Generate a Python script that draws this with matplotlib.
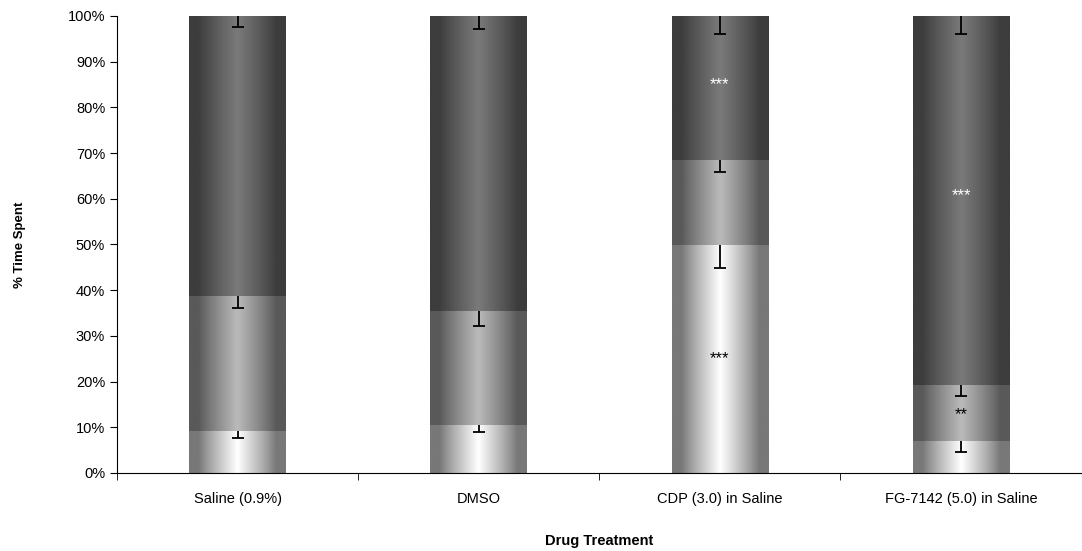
import matplotlib
matplotlib.use("Agg")
import matplotlib.pyplot as plt
import numpy as np

plt.rcParams['font.family'] = ['Liberation Sans', 'DejaVu Sans']

groups = ['Saline (0.9%)', 'DMSO', 'CDP (3.0) in Saline', 'FG-7142 (5.0) in Saline']
# % time spent in each zone (stacked, sums to 100)
zone_low = [9.2, 10.5, 49.9, 7.0]
zone_mid = [29.5, 24.9, 18.6, 12.3]
zone_top = [61.3, 64.6, 31.5, 80.7]
# downward error bars at the top of each segment
err_low = [1.5, 1.5, 5.0, 2.4]
err_mid = [2.6, 3.2, 2.6, 2.5]
err_top = [2.4, 2.8, 4.0, 4.0]
# significance marks: group index, segment, label, y position
star_group = [2, 2, 3, 3]
star_seg = ['low', 'top', 'mid', 'top']
star_text = ['***', '***', '**', '***']
star_y = [25, 85, 12.8, 60.6]

# gradient colours (edge grey, centre grey)
shades = {'low': (0.47, 1.0), 'mid': (0.35, 0.73), 'top': (0.24, 0.48)}

fig = plt.figure(figsize=(10.82, 5.51), dpi=100)
ax = fig.add_axes([0.1081, 0.1416, 0.8915, 0.8294])

ind = np.arange(len(groups))
low = np.array(zone_low)
mid = np.array(zone_mid)
top = np.array(zone_top)

bars_low = ax.bar(ind, low, width=0.4, color='none')
bars_mid = ax.bar(ind, mid, width=0.4, bottom=low, color='none')
bars_top = ax.bar(ind, top, width=0.4, bottom=low + mid, color='none')

u = np.linspace(-1, 1, 256)
prof = np.clip(1 - np.abs(u) / 0.8, 0, 1) ** 0.9

def fill_gradient(bars, key):
    edge, centre = shades[key]
    g = edge + (centre - edge) * prof
    img = np.repeat(g[None, :], 2, axis=0)
    for b in bars:
        x0, y0 = b.get_x(), b.get_y()
        im = ax.imshow(img, cmap='gray', vmin=0, vmax=1, aspect='auto',
                       extent=(x0, x0 + b.get_width(), y0, y0 + b.get_height()),
                       interpolation='bilinear', zorder=1)
        im.set_clip_path(b)

fill_gradient(bars_low, 'low')
fill_gradient(bars_mid, 'mid')
fill_gradient(bars_top, 'top')

tops = {'low': low, 'mid': low + mid, 'top': low + mid + top}
errs = {'low': err_low, 'mid': err_mid, 'top': err_top}
for key in ['low', 'mid', 'top']:
    y = tops[key]
    e = np.array(errs[key])
    ax.errorbar(ind, y, yerr=[e, np.zeros_like(e)], fmt='none', ecolor='black',
                elinewidth=1.3, capsize=0, zorder=3, clip_on=False)
    ax.plot(ind, y - e, ls='none', marker='_', ms=8, mew=1.3, color='black',
            zorder=3, clip_on=False)

for i, seg, lab, yy in zip(star_group, star_seg, star_text, star_y):
    ax.text(ind[i], yy, lab, ha='center', va='center', fontsize=12,
            color='white' if seg == 'top' else 'black')

ax.set_xlim(-0.5, 3.5)
ax.set_ylim(0, 100)
ax.set_yticks(np.arange(0, 101, 10))
ax.set_yticklabels(['%d%%' % v for v in range(0, 101, 10)], fontsize=10.5)
ax.set_xticks(ind)
ax.set_xticklabels(groups, fontsize=10.5)
ax.set_xticks(np.arange(-0.5, 4, 1), minor=True)
ax.tick_params(axis='x', which='major', length=0, pad=14)
ax.tick_params(axis='x', which='minor', length=5, direction='out')
ax.tick_params(axis='y', length=5, direction='out')
ax.spines['top'].set_visible(False)
ax.spines['right'].set_visible(False)
ax.set_xlabel('Drug Treatment', fontsize=10.5, fontweight='bold', labelpad=20)
ax.set_ylabel('% Time Spent', fontsize=9.5, fontweight='bold', labelpad=30)

fig.savefig('out.png', dpi=100)
